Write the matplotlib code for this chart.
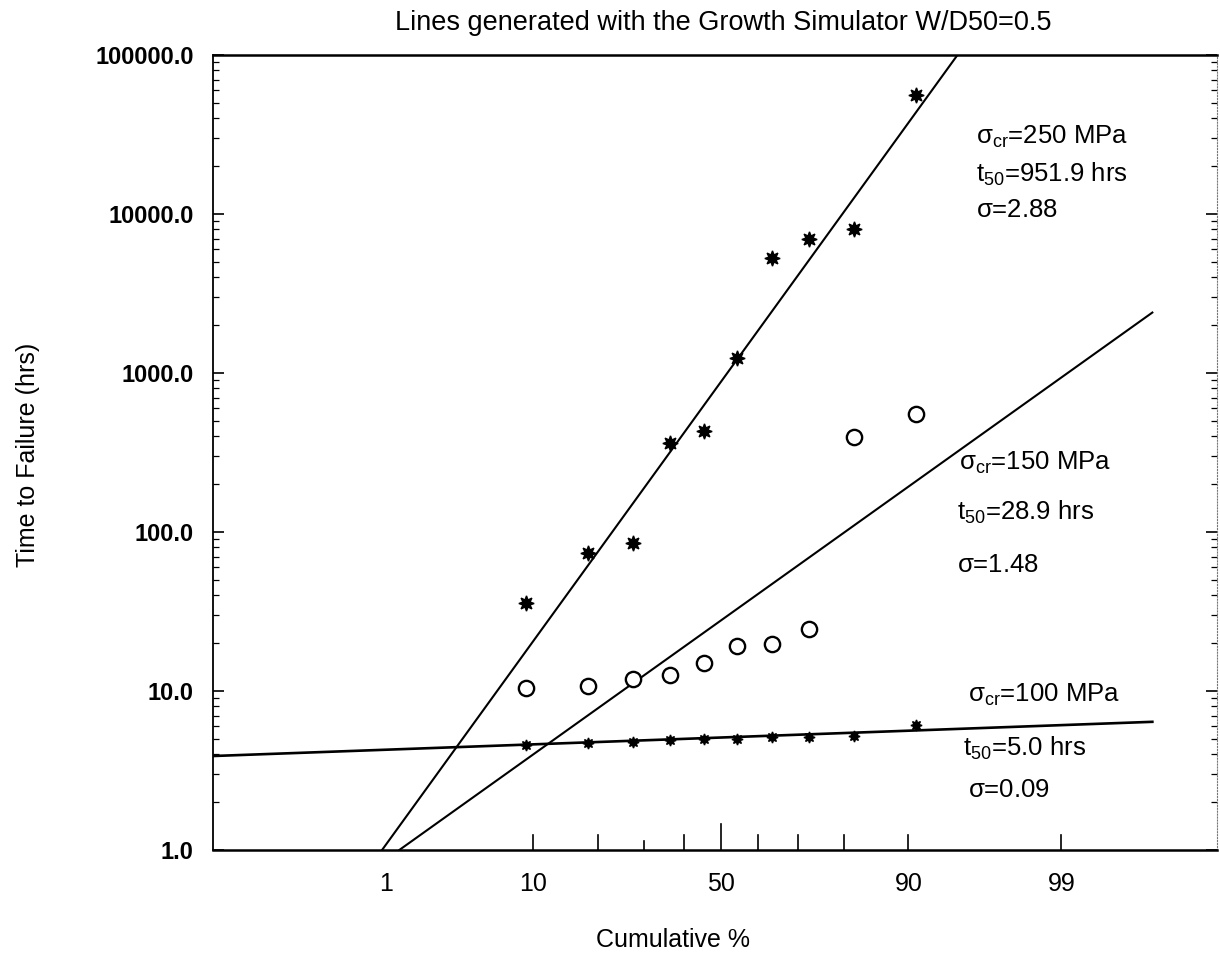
import numpy as np
import matplotlib
matplotlib.use("Agg")
import matplotlib.pyplot as plt
from matplotlib.ticker import LogLocator, FixedLocator, NullFormatter, FuncFormatter
from statistics import NormalDist

plt.rcParams["font.family"] = ["Liberation Sans", "DejaVu Sans"]
plt.rcParams["mathtext.fontset"] = "custom"
plt.rcParams["mathtext.rm"] = "Liberation Sans"
plt.rcParams["mathtext.it"] = "Liberation Sans"

# Cumulative % (mean ranks) for the 10 specimens
cum_pct = [9.1, 18.2, 27.3, 36.4, 45.5, 54.5, 63.6, 72.7, 81.8, 90.9]

# Time to failure (hrs)
ttf_250 = [36, 74, 85, 365, 430, 1240, 5300, 7000, 8100, 56000]
ttf_150 = [10.4, 10.7, 11.9, 12.6, 15.0, 19.2, 19.8, 24.5, 395, 550]
ttf_100 = [4.6, 4.7, 4.8, 4.9, 5.0, 5.0, 5.1, 5.1, 5.2, 6.1]

# Fitted lognormal lines (endpoints)
fit_250_pct = [1.03, 94.7]
fit_250_t = [1.0, 100000.0]
fit_150_pct = [1.40, 99.84]
fit_150_t = [1.0, 2400.0]
fit_100_pct = [0.026, 99.84]
fit_100_t = [3.9, 6.4]

x_ticks = [10, 20, 30, 40, 50, 60, 70, 80, 90, 99]
x_labels = ["1", "10", "50", "90", "99"]
x_label_pos = [1.1, 10, 50, 90, 99]
y_ticks = [1, 10, 100, 1000, 10000, 100000]

annotations = [
    (r"$\mathrm{\sigma_{cr}}$=250 MPa", r"$\mathrm{t_{50}}$=951.9 hrs", r"$\mathrm{\sigma}$=2.88"),
    (r"$\mathrm{\sigma_{cr}}$=150 MPa", r"$\mathrm{t_{50}}$=28.9 hrs", r"$\mathrm{\sigma}$=1.48"),
    (r"$\mathrm{\sigma_{cr}}$=100 MPa", r"$\mathrm{t_{50}}$=5.0 hrs", r"$\mathrm{\sigma}$=0.09"),
]

_nd = NormalDist()


def prob_fwd(p):
    p = np.clip(np.asarray(p, dtype=float) / 100.0, 1e-9, 1 - 1e-9)
    return np.vectorize(_nd.inv_cdf, otypes=[float])(p)


def prob_inv(z):
    z = np.asarray(z, dtype=float)
    return 100.0 * np.vectorize(_nd.cdf, otypes=[float])(z)


fig = plt.figure(figsize=(12.2, 9.58), dpi=100)
ax = fig.add_axes([213 / 1220, 108 / 958, 1004 / 1220, 795 / 958])

ax.set_xscale("function", functions=(prob_fwd, prob_inv))
ax.set_yscale("log")
ax.set_xlim(0.026, 99.965)
ax.set_ylim(1, 100000)

# fitted lines
ax.plot(fit_250_pct, fit_250_t, color="black", lw=1.5)
ax.plot(fit_150_pct, fit_150_t, color="black", lw=1.5)
ax.plot(fit_100_pct, fit_100_t, color="black", lw=1.9)

# data points
ax.plot(cum_pct, ttf_250, ls="none", marker=(8, 1, 0), ms=11, color="black")
ax.plot(cum_pct, ttf_150, ls="none", marker="o", ms=11, mfc="white",
        mec="black", mew=1.7)
ax.plot(cum_pct, ttf_100, ls="none", marker=(8, 1, 0), ms=8, color="black")

# x axis: probability scale, labels only at a few points
ax.xaxis.set_major_locator(FixedLocator(x_label_pos))
ax.xaxis.set_major_formatter(FuncFormatter(
    lambda v, pos: x_labels[pos] if pos is not None and pos < len(x_labels) else ""))
ax.xaxis.set_minor_locator(FixedLocator([]))
ax.tick_params(axis="x", which="major", length=0, pad=16, labelsize=18)

# short inward tick marks at the cumulative % grid
xt = ax.get_xaxis_transform()
for t in x_ticks:
    h = (26 if t == 50 else (9 if t == 30 else 15)) / 795
    ax.plot([t, t], [0, h], transform=xt, color="black", lw=1.2, clip_on=False)

# y axis: log ticks, inward on both sides
ax.yaxis.set_major_locator(FixedLocator(y_ticks))
ax.yaxis.set_minor_locator(LogLocator(base=10, subs=np.arange(2, 10)))
ax.yaxis.set_major_formatter(FuncFormatter(lambda v, pos: f"{v:.1f}"))
ax.yaxis.set_minor_formatter(NullFormatter())
ax.tick_params(axis="y", which="major", direction="in", length=8, width=1.2,
               pad=14, labelsize=17, right=True)
ax.tick_params(axis="y", which="minor", direction="in", length=4, width=0.9,
               right=True)
for lbl in ax.get_yticklabels():
    lbl.set_fontweight("bold")

for s in ["top", "bottom"]:
    ax.spines[s].set_linewidth(1.8)
ax.spines["left"].set_linewidth(1.3)
ax.spines["right"].set_linestyle(":")
ax.spines["right"].set_linewidth(0.8)
ax.spines["right"].set_color("#777777")

# annotations
text_pos = [
    [(0.760, 0.897), (0.760, 0.850), (0.760, 0.805)],
    [(0.743, 0.487), (0.741, 0.425), (0.741, 0.358)],
    [(0.752, 0.195), (0.747, 0.128), (0.752, 0.075)],
]
for texts, positions in zip(annotations, text_pos):
    for s, (tx, ty) in zip(texts, positions):
        ax.text(tx, ty, s, transform=ax.transAxes, fontsize=18.5,
                ha="left", va="center")

fig.text(0.593, 0.976, "Lines generated with the Growth Simulator W/D50=0.5",
         ha="center", va="center", fontsize=19.5)
fig.text(0.023, 0.525, "Time to Failure (hrs)", rotation=90,
         ha="center", va="center", fontsize=18)
fig.text(0.552, 0.019, "Cumulative %", ha="center", va="center", fontsize=18)

fig.savefig("out.png", dpi=100)
